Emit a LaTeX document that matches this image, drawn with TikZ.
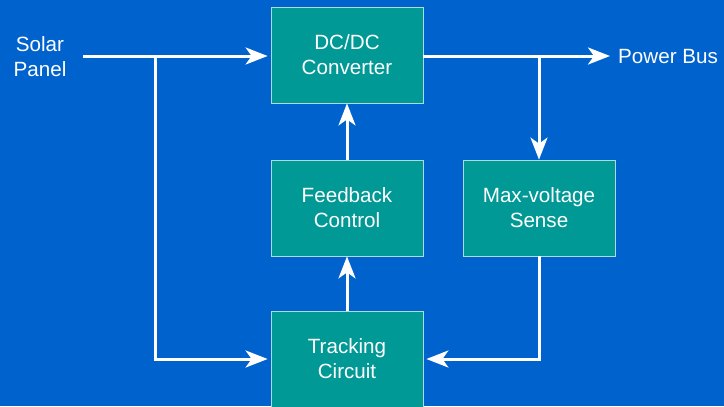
\documentclass[tikz,border=0pt]{standalone}
\usepackage{fontspec}
\setmainfont{Liberation Sans}
\usetikzlibrary{arrows.meta}
\definecolor{bgblue}{RGB}{0,98,204}
\definecolor{boxteal}{RGB}{0,153,150}
\definecolor{boxedge}{RGB}{170,220,225}
\tikzset{
  block/.style={draw=boxedge, line width=0.8bp, fill=boxteal, minimum width=152bp,
    minimum height=96bp, inner sep=0pt, align=center, text=white,
    font=\fontsize{20.7}{25}\selectfont},
  label/.style={text=white, align=center, font=\fontsize{20.7}{25}\selectfont, inner sep=0pt},
  wire/.style={draw=white, line width=3bp},
  arr/.style={wire, -{Stealth[length=22bp, width=17bp, inset=6bp]}},
}
\begin{document}
\begin{tikzpicture}[x=1bp, y=-1bp]
  \fill[bgblue] (0,0) rectangle (724,406);
  \useasboundingbox (0,0) rectangle (724,406);

  \node[block] (dcdc) at (347,55) {DC/DC\\Converter};
  \node[block] (fb) at (347,208) {Feedback\\Control};
  \node[block] (mv) at (539,208) {Max-voltage\\Sense};
  \node[block] (tc) at (347,359) {Tracking\\Circuit};

  \node[label] (solar) at (40,57) {Solar\\Panel};
  \node[label, anchor=west] (bus) at (618,57) {Power Bus};

  \coordinate (sin) at (83,56);
  \coordinate (split) at (155,56);
  \coordinate (tap) at (539,56);
  \coordinate (outend) at (610,56);

  % input path and branch to the tracker
  \draw[arr, shorten >=3bp] (sin) -- (dcdc.west |- sin);
  \draw[arr, shorten >=3bp] (split) |- (tc.west);
  % converter output and voltage sensing
  \draw[arr] (dcdc.east |- tap) -- (outend);
  \draw[arr] (tap) -- (mv.north);
  \draw[arr, shorten >=3bp] (mv.south) |- (tc.east);
  % control loop
  \draw[arr] (tc.north) -- (fb.south);
  \draw[arr] (fb.north) -- (dcdc.south);
\end{tikzpicture}
\end{document}
